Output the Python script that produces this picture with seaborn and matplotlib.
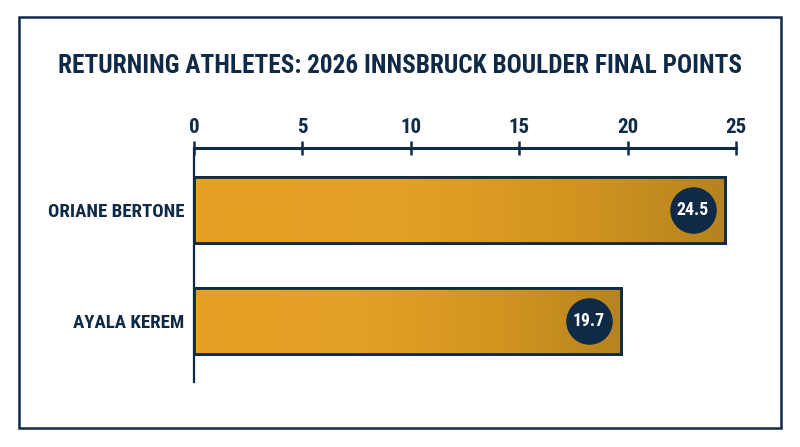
import numpy as np
import pandas as pd
import matplotlib
matplotlib.use("Agg")
import matplotlib.pyplot as plt
from matplotlib import font_manager
from matplotlib.patches import Rectangle
from matplotlib.colors import LinearSegmentedColormap
import seaborn as sns

athletes = ["ORIANE BERTONE", "AYALA KEREM"]
points = [24.5, 19.7]
x_ticks = [0, 5, 10, 15, 20, 25]
title = "RETURNING ATHLETES: 2026 INNSBRUCK BOULDER FINAL POINTS"

navy = "#0f2a47"
gold_cmap = LinearSegmentedColormap.from_list(
    "gold", [(0, "#e7a126"), (0.4, "#e3a026"), (0.75, "#d0931f"), (1, "#b5831f")])

sns.set_theme(style="white")
names = {f.name for f in font_manager.fontManager.ttflist}
condensed = [f for f in ["Roboto Condensed", "Open Sans Condensed", "Liberation Sans Narrow"]
             if f in names]
plt.rcParams["font.family"] = condensed + ["DejaVu Sans"]
plt.rcParams["font.stretch"] = "condensed"
plt.rcParams["font.weight"] = "bold"

df = pd.DataFrame({"athlete": athletes, "points": points})

fig = plt.figure(figsize=(8, 4.47), dpi=100)
ax = fig.add_axes([0.2425, 0.1454, 0.6775, 0.5235])
sns.barplot(data=df, x="points", y="athlete", orient="h", ax=ax,
            color="#e7a126", width=0.6, edgecolor=navy, linewidth=2, saturation=1)

# gradient fill clipped to each bar, then redraw the outline on top
grad = np.linspace(0, 1, 256).reshape(1, -1)
for p in list(ax.patches):
    x0, y0 = p.get_xy()
    w, h = p.get_width(), p.get_height()
    im = ax.imshow(grad, cmap=gold_cmap, extent=[x0, x0 + w, y0 + h, y0],
                   aspect="auto", zorder=p.get_zorder() + 0.1)
    im.set_clip_path(p)
    ax.add_patch(Rectangle((x0, y0), w, h, fill=False, edgecolor=navy,
                           linewidth=2, zorder=p.get_zorder() + 0.2))
ax.set_xlim(0, 25)
ax.set_ylim(1.55, -0.56)

labels = []
for i, v in enumerate(points):
    ax.plot(v - 1.5, i, "o", ms=32.5, color=navy, zorder=5)
    labels.append(ax.text(v - 1.5, i, f"{v}", ha="center", va="center", color="white",
                          fontsize=14, fontweight="bold", zorder=6))

ax.xaxis.tick_top()
ax.set_xticks(x_ticks)
ax.tick_params(axis="x", direction="inout", length=9.5, width=1.8, color=navy,
               labelsize=15, labelcolor=navy, pad=3)
ax.tick_params(axis="y", length=0, labelsize=14, labelcolor=navy, pad=7)
ax.set_xlabel("")
ax.set_ylabel("")
for s in ["right", "bottom"]:
    ax.spines[s].set_visible(False)
ax.spines["top"].set_linewidth(2.2)
ax.spines["top"].set_color(navy)
ax.spines["left"].set_linewidth(1.6)
ax.spines["left"].set_color(navy)

ttl = fig.text(0.5, 0.852, title, ha="center", va="center", fontsize=22,
               fontweight="bold", color=navy)
fig.patches.append(Rectangle((0.024, 0.0425), 0.9525, 0.919, transform=fig.transFigure,
                             fill=False, edgecolor=navy, linewidth=1.8))

# shrink texts to the widths seen in the reference (the font there is very narrow)
fig.canvas.draw()
r = fig.canvas.get_renderer()
tw = ttl.get_window_extent(r).width
ttl.set_fontsize(min(22, 22 * 680 / tw))
ylab = ax.get_yticklabels()
lw = ylab[0].get_window_extent(r).width
ax.tick_params(axis="y", labelsize=min(14, 14 * 136 / lw))
cw = labels[0].get_window_extent(r).width
for t in labels:
    t.set_fontsize(min(14, 14 * 32 / cw))

fig.savefig("out.png", dpi=100)
